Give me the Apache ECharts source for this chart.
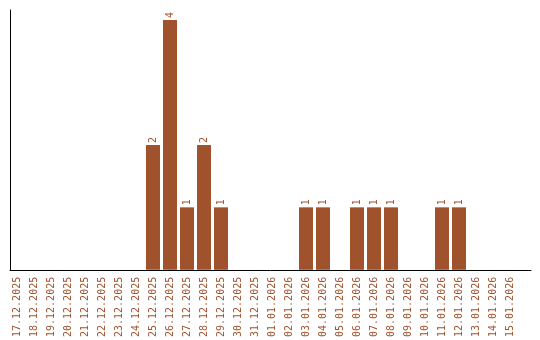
<!DOCTYPE html>
<html><head><meta charset="utf-8">
<script src="https://cdn.jsdelivr.net/npm/echarts@6/dist/echarts.min.js"></script>
<style>html,body{margin:0;padding:0;background:#fff}#c{width:540px;height:340px}</style>
</head><body><div id="c"></div>
<script>
const categories = ["17.12.2025","18.12.2025","19.12.2025","20.12.2025","21.12.2025","22.12.2025","23.12.2025","24.12.2025","25.12.2025","26.12.2025","27.12.2025","28.12.2025","29.12.2025","30.12.2025","31.12.2025","01.01.2026","02.01.2026","03.01.2026","04.01.2026","05.01.2026","06.01.2026","07.01.2026","08.01.2026","09.01.2026","10.01.2026","11.01.2026","12.01.2026","13.01.2026","14.01.2026","15.01.2026"];
const values = [0,0,0,0,0,0,0,0,2,4,1,2,1,0,0,0,0,1,1,0,1,1,1,0,0,1,1,0,0,0];

const color = '#A0522D';
const font = 'DejaVu Sans Mono';
const data = values.map((v,i)=> v>0 ? [i,v] : null).filter(d=>d);

const chart = echarts.init(document.getElementById('c'), null, {renderer:'canvas'});
chart.setOption({
  animation:false,
  grid:{left:10, right:9, top:10, bottom:70, containLabel:false},
  xAxis:{
    type:'value', min:-7/17, max:(531-17)/17,
    splitLine:{show:false},
    axisTick:{show:false},
    axisLine:{show:true, onZero:false, lineStyle:{color:'#000', width:1}},
    axisLabel:{
      customValues: categories.map((c,i)=>i),
      formatter: v => categories[Math.round(v)] || '',
      rotate:90, margin:7, color:color, fontFamily:font, fontSize:10
    }
  },
  yAxis:{
    type:'value', min:0, max:4.16,
    splitLine:{show:false}, axisTick:{show:false}, axisLabel:{show:false},
    axisLine:{show:true, onZero:false, lineStyle:{color:'#000', width:1}}
  },
  series:[{
    type:'bar', data:data, barWidth:14,
    itemStyle:{color:color},
    label:{show:true, position:'top', rotate:90, distance:2, color:color, fontFamily:font, fontSize:10,
      formatter: p => String(p.value[1]), align:'left', verticalAlign:'middle'}
  }]
});
</script></body></html>
